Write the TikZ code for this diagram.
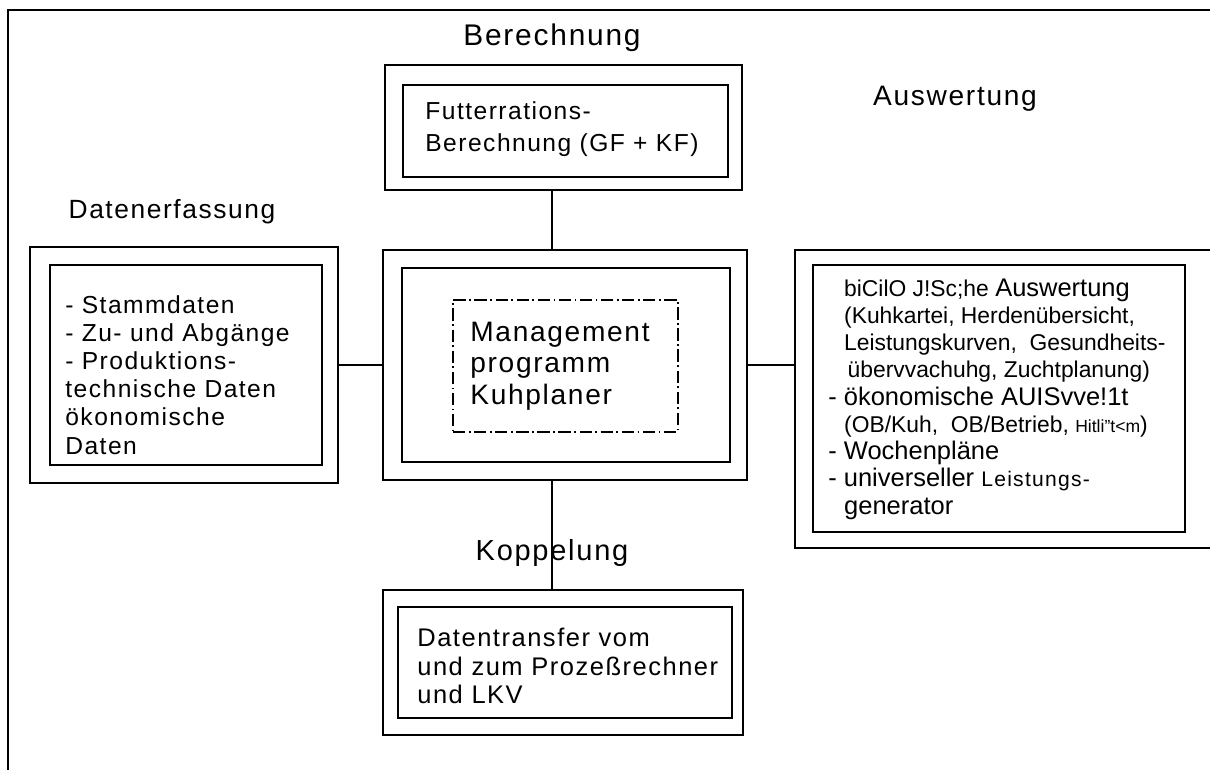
\documentclass[tikz,border=0pt]{standalone}
\usepackage{fontspec}
\setmainfont{Liberation Sans}
\newfontfamily\scanfont[LetterSpace=6]{Liberation Sans}
\usetikzlibrary{positioning}

\begin{document}
\begin{tikzpicture}[
  frame/.style={draw,line width=1pt,inner sep=0pt},
  heading/.style={inner sep=0pt,font=\scanfont},
  scantext/.style={anchor=west,align=left,inner sep=0pt},
  conn/.style={draw,line width=1pt}
]
  \useasboundingbox (0,0) rectangle (24.2,-15.52);
  % page frame (top and left only)
  \draw[line width=1.2pt] (0.16,-15.4) -- (0.16,-0.2) -- (24.2,-0.2);
  % Berechnung
  \node[heading,font=\scanfont\fontsize{17}{17}\selectfont] (berl) at (11.04,-0.76) {Berechnung};
  \node[frame,minimum width=7.14cm,minimum height=2.5cm] (ber) at (11.27,-2.55) {};
  \node[frame,minimum width=6.5cm,minimum height=1.84cm] (beri) at (11.31,-2.62) {};
  \node[scantext,font=\scanfont\fontsize{14}{18}\selectfont] (bert) at (8.5,-2.58)
    {Futterrations-\\Berechnung (GF + KF)};
  % Datenerfassung
  \node[heading,font=\scanfont\fontsize{15}{15}\selectfont] (datl) at (3.44,-4.24) {Datenerfassung};
  \node[frame,minimum width=6.16cm,minimum height=4.72cm] (dat) at (3.68,-7.3) {};
  \node[frame,minimum width=5.44cm,minimum height=4.0cm] (dati) at (3.72,-7.3) {};
  \node[scantext,font=\scanfont\fontsize{14}{16}\selectfont] (datt) at (1.3,-7.5)
    {- Stammdaten\\- Zu- und Abgänge\\- Produktions-\\technische Daten\\ökonomische\\Daten};
  % Managementprogramm
  \node[frame,minimum width=7.28cm,minimum height=4.6cm] (mgmt) at (11.3,-7.3) {};
  \node[frame,minimum width=6.56cm,minimum height=3.88cm] (mgmtm) at (11.32,-7.3) {};
  \node[frame,dash pattern=on 7pt off 2pt on 1pt off 2pt,minimum width=4.5cm,minimum height=2.64cm] (mgmti) at (11.31,-7.32) {};
  \node[scantext,font=\scanfont\fontsize{16}{18}\selectfont] (mgmtt) at (9.4,-7.32)
    {Management\\programm\\Kuhplaner};
  % Auswertung
  \node[heading,font=\scanfont\fontsize{16}{16}\selectfont] (ausl) at (19.1,-1.98) {Auswertung};
  \coordinate (ausk) at (15.9,-7.3);
  \draw[line width=1.3pt] (24.2,-5.0) -- (15.9,-5.0) -- (15.9,-10.96) -- (24.2,-10.96);
  \node[frame,line width=1.4pt,minimum width=7.44cm,minimum height=5.34cm] (aus) at (19.98,-7.97) {};
  \node[scantext,font=\fontsize{13}{15.5}\selectfont] (aust) at (16.56,-7.98)
    {\hspace*{9pt}biCilO J!Sc;he {\fontsize{14.5}{15.5}\selectfont Auswertung}\\
     \hspace*{9pt}(Kuhkartei, Herdenübersicht,\\
     \hspace*{9pt}Leistungskurven,~ Gesundheits-\\
     \hspace*{11pt}übervvachuhg, Zuchtplanung)\\
     {\fontsize{14.5}{15.5}\selectfont - ökonomische AUISvve!1t}\\
     \hspace*{9pt}(OB/Kuh,~ OB/Betrieb, {\fontsize{10}{15.5}\selectfont Hitli"t<m})\\
     {\fontsize{14.5}{15.5}\selectfont - Wochenpläne}\\
     {\fontsize{14.5}{15.5}\selectfont - universeller {\scanfont\fontsize{12}{15.5}\selectfont Leistungs-}}\\
     {\fontsize{14.5}{15.5}\selectfont\hspace*{9pt}generator}};
  % Koppelung
  \node[heading,font=\scanfont\fontsize{16.5}{16.5}\selectfont] (kopl) at (11.04,-11.06) {Koppelung};
  \node[frame,minimum width=7.2cm,minimum height=2.9cm] (kop) at (11.26,-13.25) {};
  \node[frame,minimum width=6.68cm,minimum height=2.22cm] (kopi) at (11.3,-13.25) {};
  \node[scantext,font=\scanfont\fontsize{14.5}{16}\selectfont] (kopt) at (8.34,-13.32)
    {Datentransfer vom\\und zum Prozeßrechner\\und LKV};
  % Verbindungen
  \draw[conn] (berl |- ber.south) -- (berl |- mgmt.north);
  \draw[conn] (kopl |- mgmt.south) -- (kopl |- kop.north);
  \foreach \a/\b in {dat/mgmt, mgmt/ausk} {
    \draw[conn] (\a) -- (\b);
  }
\end{tikzpicture}
\end{document}
